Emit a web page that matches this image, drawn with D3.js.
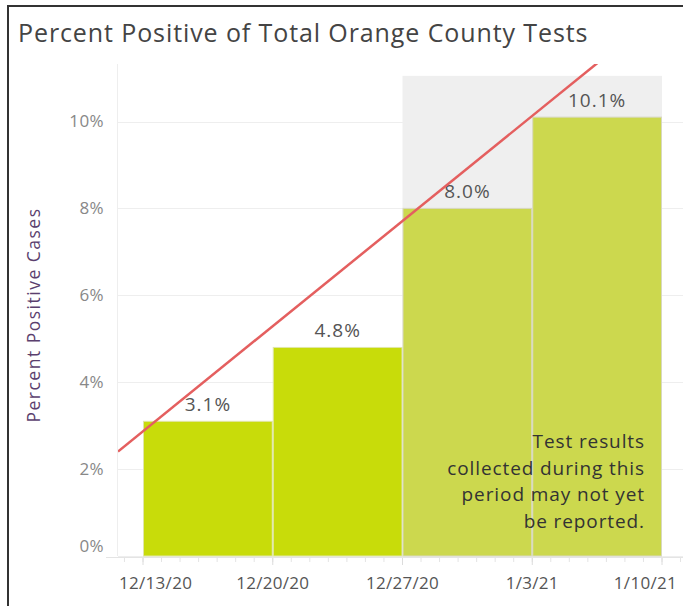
<!DOCTYPE html>
<html>
<head>
<meta charset="utf-8">
<script src="https://cdn.jsdelivr.net/npm/d3@7"></script>
<style>
  body { margin: 0; background: #fff; }
  text { font-family: "Open Sans", "Noto Sans", sans-serif; }
</style>
</head>
<body>
<svg id="chart" width="683" height="606"></svg>
<script>
const weeks = ["2020-12-13", "2020-12-20", "2020-12-27", "2021-01-03"];
const positivity = [3.1, 4.8, 8.0, 10.1];
const incomplete = [false, false, true, true];
const tickDates = ["2020-12-13", "2020-12-20", "2020-12-27", "2021-01-03", "2021-01-10"];
const tickLabels = ["12/13/20", "12/20/20", "12/27/20", "1/3/21", "1/10/21"];
const yTicks = [0, 2, 4, 6, 8, 10];
const shadeTop = 11.05;
const noteLines = ["Test results", "collected during this", "period may not yet", "be reported."];

const parse = d3.utcParse("%Y-%m-%d");
const DAY = 864e5;

const svg = d3.select("#chart");
const plot = { left: 118, right: 683, top: 64, bottom: 556 };

// frame
svg.append("path")
  .attr("d", "M8,606 V6 H683")
  .attr("fill", "none")
  .attr("stroke", "#333")
  .attr("stroke-width", 2);

svg.append("text")
  .attr("x", 18).attr("y", 42)
  .attr("font-size", 25)
  .attr("letter-spacing", 0.9)
  .attr("fill", "#444")
  .text("Percent Positive of Total Orange County Tests");

const x = d3.scaleUtc()
  .domain([parse(tickDates[0]), parse(tickDates[4])])
  .range([143, 662]);
const y = d3.scaleLinear().domain([0, 10]).range([556, 121.5]);

const data = weeks.map((w, i) => ({
  start: parse(w),
  end: new Date(+parse(w) + 7 * DAY),
  value: positivity[i],
  incomplete: incomplete[i]
}));

// gridlines
svg.append("g")
  .selectAll("line")
  .data(yTicks)
  .join("line")
  .attr("x1", plot.left).attr("x2", plot.right)
  .attr("y1", d => Math.round(y(d)) + 0.5).attr("y2", d => Math.round(y(d)) + 0.5)
  .attr("stroke", "#eeeeee");

svg.append("line")
  .attr("x1", plot.left - 0.5).attr("x2", plot.left - 0.5)
  .attr("y1", plot.top).attr("y2", plot.bottom)
  .attr("stroke", "#eeeeee");

// shaded incomplete period
const inc = data.filter(d => d.incomplete);
svg.append("rect")
  .attr("x", x(inc[0].start))
  .attr("width", x(inc[inc.length - 1].end) - x(inc[0].start))
  .attr("y", y(shadeTop))
  .attr("height", y(0) - y(shadeTop))
  .attr("fill", "#efefef");

// bars
svg.append("g")
  .selectAll("rect")
  .data(data)
  .join("rect")
  .attr("x", d => x(d.start) + 0.5)
  .attr("width", d => x(d.end) - x(d.start) - 1)
  .attr("y", d => y(d.value))
  .attr("height", d => y(0) - y(d.value))
  .attr("fill", d => d.incomplete ? "#ccd84e" : "#c8dc0a")
  .attr("stroke", d => d.incomplete ? "#d8d8c0" : "#e0e6a8")
  .attr("stroke-width", 1);

// bar labels
svg.append("g")
  .selectAll("text")
  .data(data)
  .join("text")
  .attr("x", d => x(new Date((+d.start + +d.end) / 2)))
  .attr("y", d => y(d.value) - 10)
  .attr("text-anchor", "middle")
  .attr("font-size", 19)
  .attr("letter-spacing", 1)
  .attr("fill", "#555")
  .text(d => d.value.toFixed(1) + "%");

// trend line (least squares on week start)
const xs = data.map(d => (+d.start - +data[0].start) / DAY);
const mx = d3.mean(xs), my = d3.mean(positivity);
const slope = d3.sum(xs, (v, i) => (v - mx) * (positivity[i] - my)) / d3.sum(xs, v => (v - mx) ** 2);
const icpt = my - slope * mx;
const trend = d => icpt + slope * ((+d - +data[0].start) / DAY);

svg.append("clipPath").attr("id", "clip")
  .append("rect")
  .attr("x", plot.left).attr("y", plot.top)
  .attr("width", plot.right - plot.left).attr("height", plot.bottom - plot.top);

const d0 = x.invert(plot.left), d1 = x.invert(plot.right);
svg.append("line")
  .attr("clip-path", "url(#clip)")
  .attr("x1", x(d0)).attr("y1", y(trend(d0)))
  .attr("x2", x(d1)).attr("y2", y(trend(d1)))
  .attr("stroke", "#e45f5f")
  .attr("stroke-width", 2.5);

// note
svg.append("text")
  .attr("x", 645).attr("y", 448)
  .attr("text-anchor", "end")
  .attr("font-size", 19)
  .attr("letter-spacing", 0.9)
  .attr("fill", "#333")
  .selectAll("tspan")
  .data(noteLines)
  .join("tspan")
  .attr("x", 645)
  .attr("dy", (d, i) => i ? 26.5 : 0)
  .text(d => d);

// y axis
const yAxis = svg.append("g")
  .attr("transform", `translate(${plot.left},0)`)
  .call(d3.axisLeft(y).tickValues(yTicks).tickSize(0).tickPadding(14).tickFormat(d => d + "%"));
yAxis.select(".domain").remove();
yAxis.selectAll("text").attr("font-size", 17).attr("fill", "#888")
  .attr("letter-spacing", 0.4)
  .attr("font-family", "'Open Sans', sans-serif")
  .attr("dy", d => d === 0 ? "-0.25em" : "0.32em");

svg.append("text")
  .attr("transform", "translate(40,315) rotate(-90)")
  .attr("text-anchor", "middle")
  .attr("font-size", 17.5)
  .attr("letter-spacing", 1.5)
  .attr("fill", "#5b3f6e")
  .text("Percent Positive Cases");

// x axis
const xAxis = svg.append("g")
  .attr("transform", `translate(0,${plot.bottom + 1})`);
xAxis.append("line")
  .attr("x1", 106).attr("x2", plot.right)
  .attr("y1", 0.5).attr("y2", 0.5)
  .attr("stroke", "#e4e4e4");
xAxis.selectAll(".minor")
  .data(d3.utcDay.range(x.invert(plot.left), x.invert(plot.right)))
  .join("line")
  .attr("class", "minor")
  .attr("x1", d => x(d)).attr("x2", d => x(d))
  .attr("y1", 1).attr("y2", 5)
  .attr("stroke", "#e4e4e4");
xAxis.selectAll(".major")
  .data(tickDates)
  .join("line")
  .attr("class", "major")
  .attr("x1", d => x(parse(d))).attr("x2", d => x(parse(d)))
  .attr("y1", 1).attr("y2", 8)
  .attr("stroke", "#dcdcdc");
// labels centred on ticks, kept inside the plot's horizontal span
const xLabels = xAxis.selectAll(".lbl")
  .data(tickDates)
  .join("text")
  .attr("class", "lbl")
  .attr("y", 32)
  .attr("font-size", 17)
  .attr("letter-spacing", 0.3)
  .attr("fill", "#555")
  .text((d, i) => tickLabels[i]);
xLabels.each(function (d) {
  const w = this.getComputedTextLength();
  let left = x(parse(d)) - w / 2;
  left = Math.max(plot.left + 1, Math.min(left, 677 - w));
  d3.select(this).attr("x", left);
});
</script>
</body>
</html>
